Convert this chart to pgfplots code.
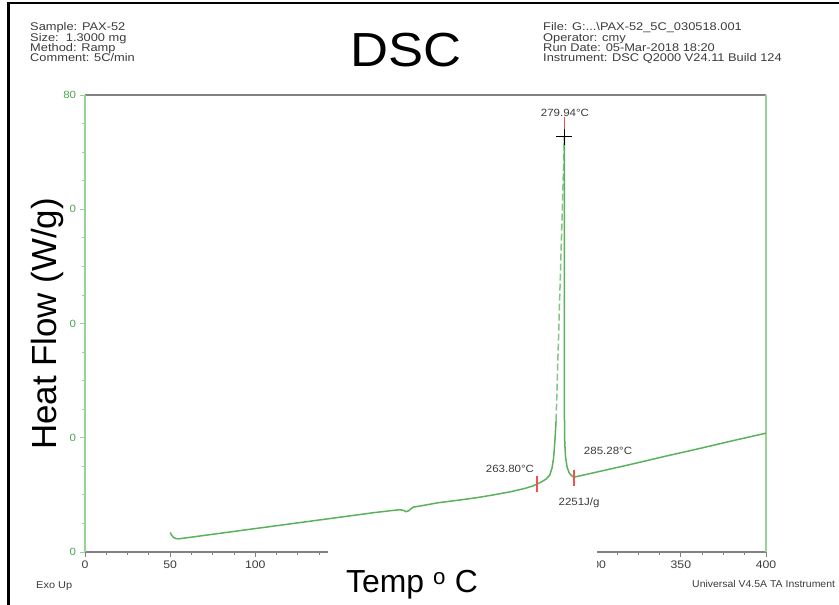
\documentclass[border=0pt]{standalone}
\usepackage{pgfplots}
\pgfplotsset{compat=1.18}
\usepackage{fontspec}
\setmainfont{Liberation Sans}

\definecolor{curvegreen}{RGB}{92,178,92}
\definecolor{axgreen}{RGB}{150,212,150}
\definecolor{labgreen}{RGB}{80,165,80}
\definecolor{axgray}{RGB}{130,130,130}
\definecolor{txtgray}{RGB}{60,60,60}
\definecolor{mkred}{RGB}{240,80,80}

\newcommand{\hdr}{\fontsize{11.2}{11.2}\selectfont}
\newcommand{\ann}{\fontsize{10.5}{10.5}\selectfont}

\begin{document}
\begin{tikzpicture}[x=1bp,y=1bp]
\useasboundingbox (0,0) rectangle (839,605);
\fill[white] (0,0) rectangle (839,605);
\draw[black, line width=2.2bp] (8.5,0) -- (8.5,602) -- (839,602);

% header
\node[anchor=base west, inner sep=0, xscale=1.15, font=\hdr, text=txtgray] at (30,574) {Sample: PAX-52};
\node[anchor=base west, inner sep=0, xscale=1.15, font=\hdr, text=txtgray] at (30,563.7) {Size:\ \ 1.3000 mg};
\node[anchor=base west, inner sep=0, xscale=1.15, font=\hdr, text=txtgray] at (30,553.4) {Method: Ramp};
\node[anchor=base west, inner sep=0, xscale=1.15, font=\hdr, text=txtgray] at (30,543) {Comment: 5C/min};
\node[anchor=base west, inner sep=0, xscale=1.15, font=\hdr, text=txtgray] at (543,574) {File: G:...\textbackslash PAX-52\_5C\_030518.001};
\node[anchor=base west, inner sep=0, xscale=1.15, font=\hdr, text=txtgray] at (543,563.7) {Operator: cmy};
\node[anchor=base west, inner sep=0, xscale=1.15, font=\hdr, text=txtgray] at (543,553.4) {Run Date: 05-Mar-2018 18:20};
\node[anchor=base west, inner sep=0, xscale=1.15, font=\hdr, text=txtgray] at (543,543) {Instrument: DSC Q2000 V24.11 Build 124};
\node[anchor=base, inner sep=0, xscale=1.1, font=\fontsize{48}{48}\selectfont] at (406,538) {DSC};

\begin{axis}[
    at={(85bp,53bp)}, anchor=south west,
    scale only axis, width=681bp, height=457bp,
    xmin=0, xmax=400, ymin=0, ymax=80,
    clip=false,
    axis line style={draw=none},
    xtick={0,50,...,400}, minor x tick num=3,
    xticklabels={0,50,100,,,,300,350,400},
    ytick={0,20,40,60,80}, minor y tick num=3,
    yticklabels={0,0,0,0,80},
    xtick pos=lower, ytick pos=left,
    tick align=outside,
    major tick length=5bp, minor tick length=3bp,
    xtick style={axgray, line width=0.8bp},
    minor x tick style={axgray, line width=0.8bp},
    ytick style={axgreen, line width=0.8bp},
    minor y tick style={axgreen, line width=0.8bp},
    /pgf/number format/assume math mode=true,
    xticklabel style={font=\fontsize{11}{11}\selectfont, text=txtgray, xscale=1.12},
    yticklabel style={font=\fontsize{10.5}{10.5}\selectfont, text=labgreen, xscale=1.1},
]
% axis frame
\draw[axgray, line width=2bp] (rel axis cs:0,1) -- (rel axis cs:1,1);
\draw[axgray, line width=1.3bp] (rel axis cs:0,0) -- (rel axis cs:1,0);
\draw[axgreen, line width=2bp] (rel axis cs:0,0) -- (rel axis cs:0,1);
\draw[axgreen, line width=2bp] (rel axis cs:1,0) -- (rel axis cs:1,1);

% DSC curve, rising side of the peak drawn broken as in the source
\addplot[curvegreen, line width=1.5bp, line join=round] coordinates {
    (50,3.4) (51,2.9) (52,2.55) (53.5,2.35) (55,2.3) (60,2.5) (70,2.9)
    (80,3.3) (90,3.7) (100,4.1) (110,4.5) (120,4.9) (130,5.3) (140,5.7)
    (150,6.1) (160,6.5) (170,6.9) (180,7.25) (185,7.4) (187,7.3)
    (188.5,7.06) (190,7.2) (192.7,7.85) (197.8,8.1) (207,8.6) (220,9.1)
    (230,9.5) (240,10.0) (250,10.55) (258,11.1) (263,11.55) (265.5,11.9)
    (268,12.25) (271,12.8) (273,13.5) (274.3,14.7) (275.2,16.4)
    (276,19.4) (276.7,23)
};
\addplot[curvegreen!75, line width=1.5bp, dash pattern=on 7bp off 3bp] coordinates {
    (276.7,23) (281.6,72.7)
};
\addplot[curvegreen, line width=1.5bp, line join=round] coordinates {
    (281.6,72.7) (281.6,24) (281.8,19) (282.3,16.5) (283.2,14.8)
    (284.5,13.8) (286,13.3) (287.2,13.1) (300,13.95) (320,15.3)
    (340,16.7) (360,18.05) (380,19.45) (400,20.8)
};

% analysis marks
\addplot[draw=mkred, line width=1.3bp, only marks, mark=|, mark size=8bp,
    mark options={draw=mkred, solid}] coordinates {(265.5,11.9) (287.2,13.0)};
\addplot[mkred, line width=1.3bp] coordinates {(281.6,72.7) (281.6,76.2)};
\addplot[black, line width=0.8bp, only marks, mark=+, mark size=8bp] coordinates {(281.6,72.7)};

\node[anchor=base, inner sep=0, xscale=1.1, font=\ann, text=txtgray] at (axis cs:281.9,76.3) {279.94°C};
\node[anchor=base, inner sep=0, xscale=1.1, font=\ann, text=txtgray] at (axis cs:249.6,14.0) {263.80°C};
\node[anchor=base, inner sep=0, xscale=1.1, font=\ann, text=txtgray] at (axis cs:307.2,17.0) {285.28°C};
\node[anchor=base, inner sep=0, xscale=1.1, font=\ann, text=txtgray] at (axis cs:290.2,8.2) {2251J/g};
\end{axis}

% pasted label boxes of the source picture
\fill[white] (328,0) rectangle (597,54);
\node[anchor=base, inner sep=0, font=\fontsize{32}{32}\selectfont] at (412,12) {Temp \textsuperscript{o} C};
\node[anchor=base, inner sep=0, rotate=90, font=\fontsize{35}{35}\selectfont] at (56,281) {Heat Flow (W/g)};

\node[anchor=base west, inner sep=0, xscale=1.1, font=\fontsize{10}{10}\selectfont, text=txtgray] at (36,16) {Exo Up};
\node[anchor=base west, inner sep=0, xscale=1.05, font=\fontsize{10}{10}\selectfont, text=txtgray] at (692,17) {Universal V4.5A TA Instrument};
\end{tikzpicture}
\end{document}
